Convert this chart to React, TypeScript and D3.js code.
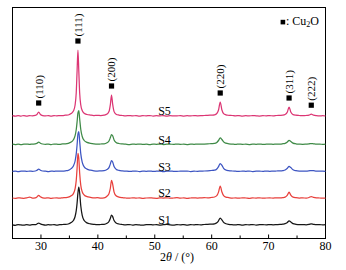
import React from "react";
import * as d3 from "d3";

// 2θ grid (degrees)
const twoTheta = [
  25, 25.5, 26, 26.5, 27, 27.5, 28, 28.5, 29,
  29.3, 29.6, 29.9, 30.3,
  30.8, 31.3, 31.8, 32.3, 32.8, 33.3, 33.8, 34.3, 34.8,
  35.3, 35.7, 36.0, 36.2, 36.35, 36.5, 36.65, 36.8, 37.0, 37.25, 37.6, 38.1, 38.7,
  39.3, 39.9, 40.5, 41.1,
  41.6, 41.95, 42.2, 42.4, 42.6, 42.85, 43.2, 43.7, 44.3,
  44.9, 45.5, 46.1, 46.7, 47.3, 47.9, 48.5, 49.1, 49.7, 50.3, 50.9, 51.5, 52.1, 52.7, 53.3, 53.9, 54.5, 55.1, 55.7, 56.3, 56.9, 57.5, 58.1, 58.7, 59.3, 59.9,
  60.5, 60.9, 61.2, 61.5, 61.8, 62.1, 62.5, 63.0,
  63.6, 64.2, 64.8, 65.4, 66.0, 66.6, 67.2, 67.8, 68.4, 69.0, 69.6, 70.2, 70.8, 71.4, 72.0,
  72.5, 72.9, 73.3, 73.6, 73.9, 74.3, 74.8,
  75.4, 76.0, 76.6,
  77.1, 77.5, 77.9, 78.4,
  79.0, 79.5, 80.0,
];

// intensities above each pattern's own baseline (a.u.)
const s1 = [
  0.2, -0.3, 0.4, 0.1, -0.2, 0.3, 0.0, 0.4, 0.3,
  1.0, 2.0, 1.2, 0.4,
  -0.1, 0.3, 0.1, 0.4, -0.2, 0.3, 0.5, 0.6, 1.0,
  2.4, 4.5, 8.5, 14.3, 21.9, 32.1, 38, 32.1, 19, 9.6, 4.5, 2.1, 1.1,
  0.6, 0.3, 0.5, 0.7,
  1.8, 3.5, 6.8, 10, 8.4, 4.5, 2.0, 1.0, 0.5,
  0.2, 0.5, 0.0, 0.4, 0.1, -0.2, 0.3, 0.5, 0.1, 0.4, -0.1, 0.3, 0.6, 0.2, 0.0, 0.4, 0.1, 0.5, -0.1, 0.3, 0.2, 0.4, 0.1, 0.5, 0.6, 0.9,
  1.2, 2.2, 4.2, 7.0, 5.1, 2.6, 1.3, 0.6,
  0.3, 0.1, 0.5, -0.1, 0.3, 0.2, 0.5, 0.0, 0.3, 0.4, 0.1, 0.5, 0.2, 0.4, 0.6,
  0.9, 1.3, 2.6, 4.1, 3.1, 1.4, 0.7,
  0.3, 0.5, 0.2,
  0.6, 1.2, 0.7, 0.3,
  0.4, 0.1, 0.3,
];
const s2 = [
  0.3, 0.0, 0.5, 0.2, -0.1, 0.4, 1.3, 0.2, 0.5,
  1.4, 3, 1.5, 0.5,
  0.2, 0.5, 0.0, 0.3, 0.4, 0.1, 0.5, 0.7, 1.1,
  2.5, 4.7, 9.6, 17.9, 30, 45, 40, 25.3, 12.9, 6.5, 3.3, 1.7, 1.0,
  0.4, 0.6, 0.2, 0.5,
  2.1, 4.6, 10.3, 18, 14.2, 6.2, 2.5, 1.2, 0.6,
  0.3, 0.1, 0.5, 0.2, 0.4, -0.1, 0.3, 0.5, 0.2, 0.0, 0.4, 0.3, 0.5, 0.1, 0.3, 0.6, 0.2, 0.4, 0.0, 0.3, 0.5, 0.2, 0.4, 0.6, 0.5, 0.8,
  1.3, 2.6, 6.2, 12.2, 6.3, 2.7, 1.2, 0.7,
  0.2, 0.4, 0.1, 0.5, 0.3, 0.0, 0.4, 0.2, 0.5, 0.1, 0.3, 0.4, 0.2, 0.5, 0.4,
  0.7, 1.2, 3.2, 6.1, 3.2, 1.1, 0.6,
  0.3, 0.4, 0.2,
  0.8, 1.8, 0.9, 0.4,
  0.3, 0.1, 0.2,
];
const s3 = [
  0.1, 0.4, 0.0, 0.3, 0.5, 0.1, 0.4, 0.2, 0.5,
  1.2, 2.5, 1.3, 0.5,
  0.3, 0.0, 0.4, 0.2, 0.5, 0.3, 0.4, 0.7, 1.1,
  2.9, 5.5, 10.5, 17.6, 26.8, 37.3, 40, 30.4, 17.6, 9.3, 4.7, 2.4, 1.3,
  0.7, 0.4, 0.6, 0.8,
  1.9, 3.9, 7.6, 11, 9.6, 5.0, 2.3, 1.1, 0.6,
  0.4, 0.1, 0.3, 0.5, 0.0, 0.4, 0.2, 0.5, 0.1, 0.3, 0.4, 0.0, 0.3, 0.5, 0.2, 0.1, 0.4, 0.3, 0.5, 0.0, 0.3, 0.2, 0.4, 0.5, 0.7, 1.0,
  1.3, 2.5, 4.9, 8, 6.1, 3.1, 1.5, 0.8,
  0.5, 0.3, 0.1, 0.4, 0.2, 0.5, 0.0, 0.3, 0.4, 0.1, 0.5, 0.2, 0.4, 0.5, 0.6,
  0.9, 1.5, 3.2, 5.1, 3.9, 1.7, 0.8,
  0.4, 0.3, 0.4,
  0.7, 1.0, 0.8, 0.4,
  0.3, 0.4, 0.2,
];
const s4 = [
  0.3, 0.0, 0.4, -0.1, 0.3, 0.5, 0.1, 0.4, 0.6,
  1.2, 2.5, 1.3, 0.5,
  0.2, 0.4, 0.0, 0.5, 0.3, 0.1, 0.6, 0.7, 1.2,
  2.5, 4.7, 8.8, 15, 22.7, 31.6, 34, 25.8, 15, 8, 4, 2.1, 1.2,
  0.6, 0.3, 0.5, 0.7,
  1.8, 3.5, 6.9, 10, 8.7, 4.6, 2.1, 1.0, 0.6,
  0.3, 0.0, 0.4, 0.2, 0.5, 0.1, 0.3, -0.1, 0.4, 0.2, 0.5, 0.0, 0.3, 0.4, 0.1, 0.5, 0.2, 0.3, 0.0, 0.4, 0.2, 0.5, 0.3, 0.4, 0.6, 0.9,
  1.1, 2.1, 4.0, 6.6, 5.0, 2.6, 1.3, 0.7,
  0.4, 0.1, 0.5, 0.2, 0.3, 0.0, 0.4, 0.2, 0.5, 0.1, 0.3, 0.4, 0.2, 0.5, 0.5,
  0.8, 1.2, 2.6, 4.1, 3.1, 1.4, 0.7,
  0.4, 0.2, 0.4,
  0.6, 1.0, 0.7, 0.3,
  0.4, 0.1, 0.3,
];
const s5 = [
  0.3, -0.2, 0.4, 0.0, 0.5, -0.1, 0.3, 0.2, 0.6,
  1.5, 4, 1.5, 0.4,
  0.1, 0.4, -0.2, 0.3, 0.2, 0.5, 0.4, 0.8, 1.0,
  2.4, 4.9, 11, 23.3, 45, 66, 45, 23.3, 11, 5.5, 2.8, 1.5, 0.9,
  0.5, 0.7, 0.4, 0.8,
  1.9, 4.4, 11.7, 21, 11.8, 4.4, 1.8, 0.9, 0.5,
  0.2, 0.5, 0.1, 0.4, -0.1, 0.3, 0.2, 0.5, 0.0, 0.3, 0.1, 0.4, -0.1, 0.3, 0.2, 0.1, 0.4, 0.0, 0.3, 0.1, 0.4, 0.2, 0.3, 0.5, 0.6, 0.9,
  1.2, 2.5, 6, 14, 6, 2.4, 1.2, 0.7,
  0.5, 0.2, 0.4, 0.0, 0.3, 0.1, 0.4, 0.2, 0.0, 0.3, 0.2, 0.4, 0.1, 0.5, 0.7,
  0.9, 1.5, 4, 9, 4, 1.4, 0.8,
  0.5, 0.3, 0.5,
  0.9, 1.8, 0.8, 0.3,
  0.1, 0.3, 0.0,
];

const seriesNames = ["S1", "S2", "S3", "S4", "S5"];
const seriesValues = [s1, s2, s3, s4, s5];
const seriesOffsets = [13.5, 40.2, 67, 94, 122.5];
const seriesColors = ["#161616", "#e8403c", "#3d55c2", "#3f8a47", "#dc3674"];

const peakPositions = [29.6, 36.5, 42.4, 61.5, 73.6, 77.5];
const peakLabels = ["(110)", "(111)", "(200)", "(220)", "(311)", "(222)"];

const xTicks = [30, 40, 50, 60, 70, 80];
const xMinorTicks = [35, 45, 55, 65, 75];

const W = 346;
const H = 270;
const M = { left: 12.5, right: 325.5, top: 7.5, bottom: 238.5 };
const FONT = "'Liberation Serif', 'Times New Roman', serif";

export default function App() {
  const x = d3.scaleLinear().domain([25, 80]).range([M.left, M.right]);
  const y = d3.scaleLinear().domain([0, 231]).range([M.bottom, M.top]);

  const lines = seriesValues.map((vals, i) =>
    d3
      .line<number>()
      .x((_, j) => x(twoTheta[j]))
      .y((v) => y(v + seriesOffsets[i]))
      .curve(d3.curveMonotoneX)(vals) as string
  );

  const top = seriesValues[4];
  const topOffset = seriesOffsets[4];
  const peakMarks = peakPositions.map((p, k) => {
    let m = 0;
    twoTheta.forEach((t, j) => {
      if (Math.abs(t - p) <= 0.3) m = Math.max(m, top[j]);
    });
    const sy = y(m + topOffset) - 9;
    return { px: x(p), sy, label: peakLabels[k] };
  });

  const labelX = x(50.6);

  return (
    <svg
      width={W}
      height={H}
      style={{ position: "absolute", left: 0, top: 0, background: "#fff" }}
      fontFamily={FONT}
    >
      <rect x={0} y={0} width={W} height={H} fill="#fff" />
      {/* frame */}
      <rect
        x={M.left}
        y={M.top}
        width={M.right - M.left}
        height={M.bottom - M.top}
        fill="none"
        stroke="#000"
        strokeWidth={1}
      />
      {/* ticks */}
      {xTicks.map((t) => (
        <g key={"t" + t}>
          <line x1={x(t)} x2={x(t)} y1={M.bottom} y2={M.bottom - 4} stroke="#000" strokeWidth={1} />
          <text x={x(t)} y={250} textAnchor="middle" fontSize={12} fill="#000">
            {t}
          </text>
        </g>
      ))}
      {xMinorTicks.map((t) => (
        <line key={"m" + t} x1={x(t)} x2={x(t)} y1={M.bottom} y2={M.bottom - 3} stroke="#000" strokeWidth={1} />
      ))}
      {/* x label */}
      <text x={177} y={261} textAnchor="middle" fontSize={12} fill="#000">
        2<tspan fontStyle="italic">θ</tspan> / (°)
      </text>
      {/* curves */}
      {lines
        .map((d, i) => ({ d, i }))
        .reverse()
        .map(({ d, i }) => (
          <path key={seriesNames[i]} d={d} fill="none" stroke={seriesColors[i]} strokeWidth={1.25} />
        ))}
      {/* series labels */}
      {seriesNames.map((n, i) => (
        <text key={"l" + n} x={labelX} y={y(seriesOffsets[i]) - 1} fontSize={12} fill="#000">
          {n}
        </text>
      ))}
      {/* peak labels */}
      {peakMarks.map((pm) => (
        <g key={pm.label}>
          <rect x={pm.px - 2.6} y={pm.sy - 2.6} width={5.2} height={5.2} fill="#000" />
          <text
            transform={`translate(${pm.px},${pm.sy - 4.5}) rotate(-90)`}
            dy="0.35em"
            fontSize={11}
            fill="#000"
          >
            {pm.label}
          </text>
        </g>
      ))}
      {/* legend */}
      <rect x={280.6} y={19.8} width={4.6} height={4.6} fill="#000" />
      <text x={286} y={25} fontSize={12} fill="#000">
        : Cu<tspan fontSize={8} dy={2}>2</tspan>
        <tspan dy={-2}>O</tspan>
      </text>
    </svg>
  );
}
